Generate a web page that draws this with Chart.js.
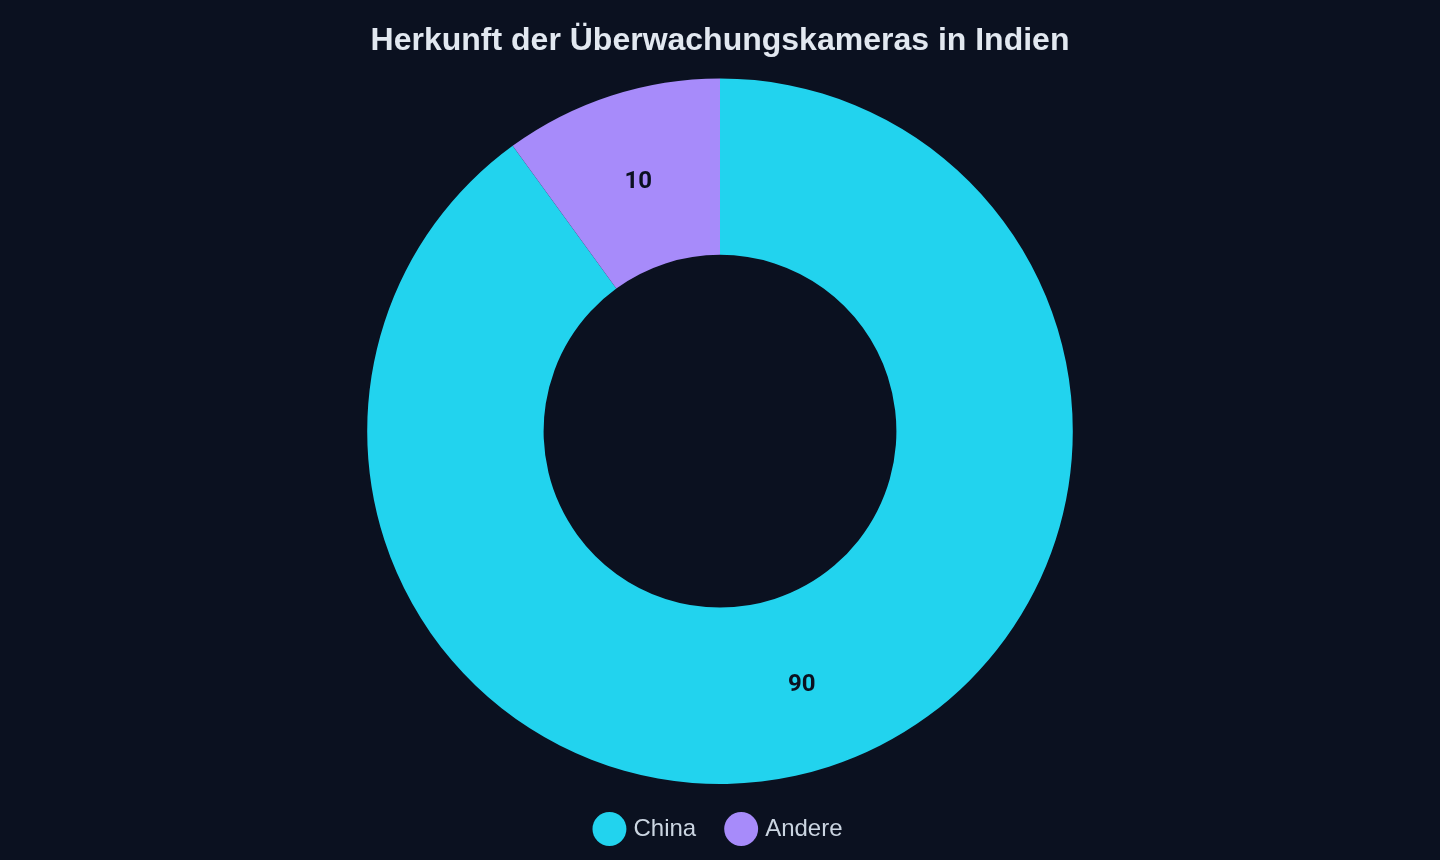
<!DOCTYPE html>
<html lang="de">
<head>
<meta charset="utf-8">
<title>Herkunft der Überwachungskameras in Indien</title>
<script src="https://cdn.jsdelivr.net/npm/chart.js"></script>
<style>
  html, body { margin: 0; padding: 0; background: #0b1120; }
  #wrap { width: 1440px; height: 860px; }
</style>
</head>
<body>
<div id="wrap"><canvas id="chart"></canvas></div>
<script>
// dados do gráfico
const labels = ['China', 'Andere'];
const values = [90, 10];
const colors = ['#22d3ee', '#a78bfa'];

// rótulos no centro de cada fatia
const sliceLabels = {
    id: 'sliceLabels',
    afterDatasetsDraw(chart) {
        const ctx = chart.ctx;
        const meta = chart.getDatasetMeta(0);
        ctx.save();
        ctx.font = 'bold 24px Roboto, "Liberation Sans", sans-serif';
        ctx.fillStyle = '#0b1120';
        ctx.textAlign = 'center';
        ctx.textBaseline = 'middle';
        meta.data.forEach((arc, i) => {
            const p = arc.tooltipPosition();
            ctx.fillText(String(values[i]), p.x, p.y + 2);
        });
        ctx.restore();
    }
};

new Chart(document.getElementById('chart').getContext('2d'), {
    type: 'doughnut',
    data: {
        labels: labels,
        datasets: [{ data: values, backgroundColor: colors, borderWidth: 0 }]
    },
    options: {
        responsive: true,
        maintainAspectRatio: false,
        animation: false,
        cutout: '50%',
        layout: { padding: { top: 12, bottom: 9 } },
        plugins: {
            title: {
                display: true,
                text: 'Herkunft der Überwachungskameras in Indien',
                color: '#e2e8f0',
                font: { size: 32, weight: 'bold', family: '"Liberation Sans", Arial, sans-serif' },
                padding: { top: 10, bottom: 18 }
            },
            legend: {
                position: 'bottom',
                labels: {
                    usePointStyle: true,
                    pointStyle: 'circle',
                    color: '#cbd5e1',
                    padding: 33,
                    font: { size: 24, family: '"Liberation Sans", Arial, sans-serif' }
                }
            },
            tooltip: { enabled: false }
        }
    },
    plugins: [sliceLabels]
});
</script>
</body>
</html>
